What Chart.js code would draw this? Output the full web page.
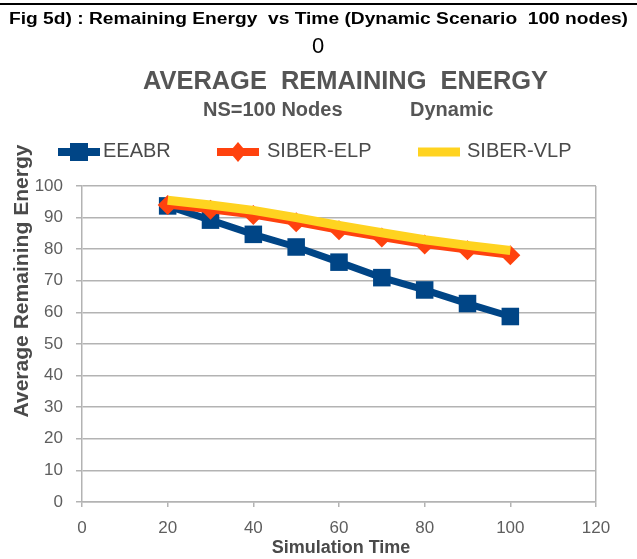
<!DOCTYPE html>
<html>
<head>
<meta charset="utf-8">
<script src="https://cdn.jsdelivr.net/npm/chart.js@4"></script>
<style>
  html, body { margin: 0; padding: 0; background: #fff; }
  canvas { display: block; }
</style>
</head>
<body>
<canvas id="chart" width="637" height="559"></canvas>
<script>
// Simulation time (x) and remaining energy per protocol (y)
const simulationTime = [20, 30, 40, 50, 60, 70, 80, 90, 100];
const eeabr     = [93.7, 89.2, 84.7, 80.7, 75.9, 71.0, 67.1, 62.8, 58.7];
const siberElp  = [94.0, 92.5, 90.8, 88.5, 86.0, 83.7, 81.5, 79.7, 78.1];
const siberVlp  = [95.5, 94.0, 92.3, 90.0, 87.5, 85.2, 83.0, 81.2, 79.6];
const seriesNames = ['EEABR', 'SIBER-ELP', 'SIBER-VLP'];
const xTicks = [0, 20, 40, 60, 80, 100, 120];
const yTicks = [0, 10, 20, 30, 40, 50, 60, 70, 80, 90, 100];

const BLUE = '#004586', ORANGE = '#ff420e', YELLOW = '#ffd320';
const GRID = '#b3b3b3', TEXT = '#4a4a4a', TICK = '#5e5e5e';
const FONT = '"Liberation Sans", Arial, sans-serif';

function toPoints(ys) { return simulationTime.map((x, i) => ({ x, y: ys[i] })); }

// Centred text; when a width is given the text is scaled horizontally to it
function drawText(ctx, text, cx, cy, font, color, width, rot) {
  ctx.save();
  ctx.font = font;
  ctx.fillStyle = color;
  ctx.textAlign = 'center';
  ctx.textBaseline = 'middle';
  ctx.translate(cx, cy);
  if (rot) ctx.rotate(rot);
  if (width) ctx.scale(width / ctx.measureText(text).width, 1);
  ctx.fillText(text, 0, 0);
  ctx.restore();
}

function leftText(ctx, text, x, cy, font, color) {
  ctx.save();
  ctx.font = font;
  ctx.fillStyle = color;
  ctx.textAlign = 'left';
  ctx.textBaseline = 'middle';
  ctx.fillText(text, x, cy);
  ctx.restore();
}

function legendMarker(ctx, kind, x, y, color) {
  ctx.save();
  ctx.fillStyle = color;
  ctx.strokeStyle = color;
  ctx.lineWidth = kind === 'line' ? 9 : 8;
  ctx.beginPath(); ctx.moveTo(x - 21, y); ctx.lineTo(x + 21, y); ctx.stroke();
  if (kind === 'rect') {
    ctx.fillRect(x - 9, y - 9, 18, 18);
  } else if (kind === 'diamond') {
    ctx.beginPath();
    ctx.moveTo(x, y - 10); ctx.lineTo(x + 8.5, y); ctx.lineTo(x, y + 10); ctx.lineTo(x - 8.5, y);
    ctx.closePath(); ctx.fill();
  }
  ctx.restore();
}

const annotations = {
  id: 'annotations',
  afterDraw(chart) {
    const ctx = chart.ctx;
    // frame rule at the top
    ctx.save();
    ctx.fillStyle = '#000';
    ctx.fillRect(0, 3, 637, 2);
    ctx.restore();

    drawText(ctx, 'Fig 5d) : Remaining Energy  vs Time (Dynamic Scenario  100 nodes)',
             318.5, 20, 'bold 16px ' + FONT, '#000', 619);
    drawText(ctx, '0', 318, 47, '22px ' + FONT, '#000');
    drawText(ctx, 'AVERAGE  REMAINING  ENERGY', 345.5, 82, 'bold 25px ' + FONT, '#555', 405);
    leftText(ctx, 'NS=100 Nodes', 203, 110.5, 'bold 20px ' + FONT, '#555');
    leftText(ctx, 'Dynamic', 410, 110.5, 'bold 20px ' + FONT, '#555');

    // legend
    legendMarker(ctx, 'rect', 79, 152, BLUE);
    leftText(ctx, seriesNames[0], 103, 151, '20px ' + FONT, TEXT);
    legendMarker(ctx, 'diamond', 238, 152, ORANGE);
    leftText(ctx, seriesNames[1], 267, 151, '20px ' + FONT, TEXT);
    legendMarker(ctx, 'line', 439, 152, YELLOW);
    leftText(ctx, seriesNames[2], 467, 151, '20px ' + FONT, TEXT);

    // axis titles
    drawText(ctx, 'Average Remaining Energy', 22, 281, 'bold 20px ' + FONT, TEXT, 273, -Math.PI / 2);
    drawText(ctx, 'Simulation Time', 341, 548, 'bold 18px ' + FONT, TEXT);
  }
};

new Chart(document.getElementById('chart'), {
  type: 'line',
  data: {
    datasets: [
      { label: seriesNames[0], data: toPoints(eeabr), borderColor: BLUE, backgroundColor: BLUE,
        borderWidth: 7, pointStyle: 'rect', pointRadius: 12.4, pointBorderWidth: 0, order: 2 },
      { label: seriesNames[1], data: toPoints(siberElp), borderColor: ORANGE, backgroundColor: ORANGE,
        borderWidth: 7, pointStyle: 'rectRot', pointRadius: 10, pointBorderWidth: 0, order: 1 },
      { label: seriesNames[2], data: toPoints(siberVlp), borderColor: YELLOW, backgroundColor: YELLOW,
        borderWidth: 9, pointRadius: 0, order: 0 }
    ]
  },
  options: {
    responsive: false,
    animation: false,
    devicePixelRatio: 1,
    events: [],
    layout: { padding: { top: 186, left: 0, right: 41, bottom: 0 } },
    plugins: { legend: { display: false }, title: { display: false }, tooltip: { enabled: false } },
    scales: {
      x: {
        type: 'linear', min: 0, max: 120,
        afterFit: s => { s.height = 57; },
        afterBuildTicks: s => { s.ticks = xTicks.map(v => ({ value: v })); },
        grid: {
          color: c => (c.tick && c.tick.value === 120 ? GRID : 'rgba(0,0,0,0)'),
          tickColor: GRID, tickLength: 5, lineWidth: 1.5
        },
        border: { display: true, color: GRID, width: 1.5 },
        ticks: { color: TICK, font: { family: FONT, size: 17 }, padding: 11, maxRotation: 0 }
      },
      y: {
        type: 'linear', min: 0, max: 100,
        afterFit: s => { s.width = 82; },
        afterBuildTicks: s => { s.ticks = yTicks.map(v => ({ value: v })); },
        grid: { color: GRID, tickColor: GRID, tickLength: 6, lineWidth: 1.5 },
        border: { display: true, color: GRID, width: 1.5 },
        ticks: { color: TICK, font: { family: FONT, size: 17 }, padding: 13 }
      }
    }
  },
  plugins: [annotations]
});
</script>
</body>
</html>
